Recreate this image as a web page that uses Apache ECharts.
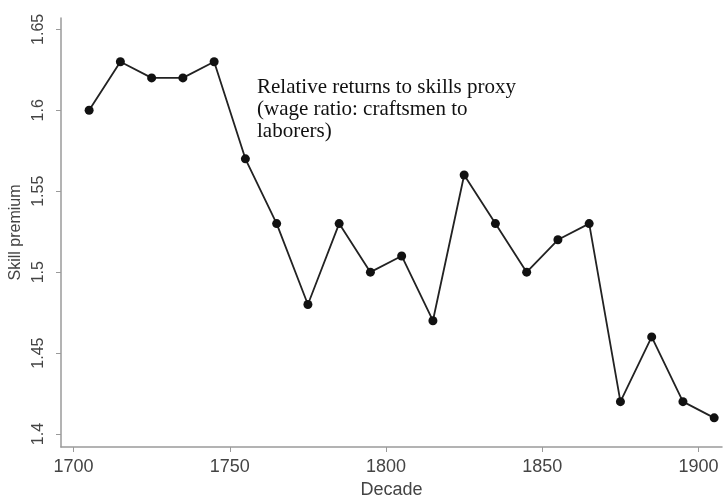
<!DOCTYPE html>
<html>
<head>
<meta charset="utf-8">
<script src="https://cdn.jsdelivr.net/npm/echarts@6/dist/echarts.min.js"></script>
<style>html,body{margin:0;padding:0;background:#fff;}#c{width:725px;height:500px;}</style>
</head>
<body>
<div id="c"></div>
<script>
const decades = [1705,1715,1725,1735,1745,1755,1765,1775,1785,1795,1805,1815,1825,1835,1845,1855,1865,1875,1885,1895,1905];
const skillPremium = [1.60,1.63,1.62,1.62,1.63,1.57,1.53,1.48,1.53,1.50,1.51,1.47,1.56,1.53,1.50,1.52,1.53,1.42,1.46,1.42,1.41];
const xTicks = [1700,1750,1800,1850,1900];
const yTicks = [1.4,1.45,1.5,1.55,1.6,1.65];
const yTickLabels = ['1.4','1.45','1.5','1.55','1.6','1.65'];
const annotation = 'Relative returns to skills proxy\n(wage ratio: craftsmen to\nlaborers)';

const chart = echarts.init(document.getElementById('c'));
const axisColor = '#9a9a9a';
const labelColor = '#444';
chart.setOption({
  animation: false,
  backgroundColor: '#fff',
  grid: {left: 61, right: 3, top: 18, bottom: 53, containLabel: false, outerBoundsMode: 'none'},
  xAxis: {
    type: 'value',
    min: 1696, max: 1907.5,
    name: 'Decade', nameLocation: 'middle', nameGap: 27,
    nameTextStyle: {fontFamily: 'Liberation Sans', fontSize: 18, color: labelColor},
    axisLine: {show: true, lineStyle: {color: axisColor, width: 1.5}},
    axisTick: {show: true, length: 5, customValues: xTicks, lineStyle: {color: axisColor}},
    axisLabel: {customValues: xTicks, margin: 11, fontFamily: 'Liberation Sans', fontSize: 18, color: labelColor, formatter: v => String(v)},
    splitLine: {show: false}
  },
  yAxis: {
    type: 'value',
    min: 1.392, max: 1.657,
    name: 'Skill premium', nameLocation: 'middle', nameGap: 35,
    nameTextStyle: {fontFamily: 'Liberation Sans', fontSize: 16, color: labelColor},
    axisLine: {show: true, lineStyle: {color: axisColor, width: 1.5}},
    axisTick: {show: true, length: 5, customValues: yTicks, lineStyle: {color: axisColor}},
    axisLabel: {customValues: yTicks, rotate: 90, margin: 14, fontFamily: 'Liberation Sans', fontSize: 16, color: labelColor,
      formatter: v => { const i = yTicks.findIndex(t => Math.abs(t - v) < 1e-6); return i >= 0 ? yTickLabels[i] : ''; }},
    splitLine: {show: false}
  },
  series: [{
    type: 'line',
    data: decades.map((d, i) => [d, skillPremium[i]]),
    symbol: 'circle', symbolSize: 9,
    itemStyle: {color: '#111'},
    lineStyle: {color: '#222', width: 1.8}
  }],
  graphic: [{
    type: 'text', left: 257, top: 76,
    style: {text: annotation, font: '21px "Liberation Serif"', fill: '#111', lineHeight: 22}
  }]
});
</script>
</body>
</html>
